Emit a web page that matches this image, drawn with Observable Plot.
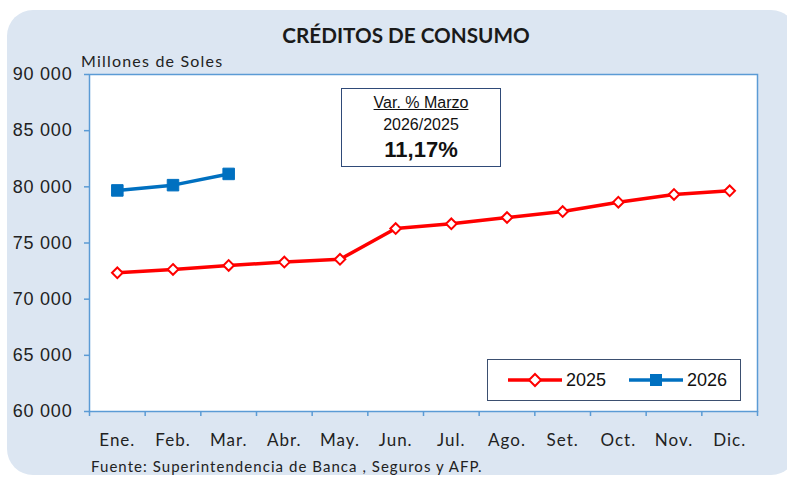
<!DOCTYPE html>
<html><head><meta charset="utf-8">
<script src="https://cdn.jsdelivr.net/npm/d3@7"></script>
<script src="https://cdn.jsdelivr.net/npm/@observablehq/plot@0.6"></script>
<style>
body{margin:0;background:#fff;}
#wrap{position:relative;width:787px;height:477px;overflow:hidden;background:#fff;}
#bg{position:absolute;left:7px;top:10px;width:790px;height:465px;border-radius:26px;background:#dce6f2;}
#chart{position:absolute;left:0;top:0;}
.t{position:absolute;white-space:nowrap;color:#1a1a1a;}
#title{left:0;width:812px;top:23px;text-align:center;font:bold 20.7px Lato,"Open Sans",sans-serif;}
#unit{left:81px;top:51px;font:16px Lato,sans-serif;color:#222;letter-spacing:1.2px;}
#foot{left:91px;top:457px;font:15px Lato,sans-serif;color:#222;letter-spacing:1.05px;}
#note{position:absolute;left:341px;top:88px;width:158px;height:77px;border:1.5px solid #2f4a78;background:#fff;text-align:center;font-family:"Liberation Sans",Arial,sans-serif;color:#111;}
#note .a{margin-top:4px;font-size:16px;line-height:19px;text-decoration:underline;}
#note .b{margin-top:3px;font-size:16px;line-height:19px;}
#note .c{margin-top:3px;font-size:22px;line-height:26px;font-weight:bold;}
#legend{position:absolute;left:487px;top:359px;width:252px;height:40px;border:1.5px solid #3b4f70;background:#fff;font:18px "Liberation Sans",Arial,sans-serif;color:#111;}
#legend svg{position:absolute;top:0;left:0;}
#legend span{position:absolute;top:10px;}
g[aria-label="x-axis tick label"] text{letter-spacing:1px;}
g[aria-label="y-axis tick label"] text{letter-spacing:0.8px;}
</style></head>
<body><div id="wrap"><div id="bg"></div><div id="chart"></div>
<div class="t" id="title">CRÉDITOS DE CONSUMO</div>
<div class="t" id="unit">Millones de Soles</div>
<div class="t" id="foot">Fuente: Superintendencia de Banca , Seguros y AFP.</div>
<div id="note"><div class="a">Var. % Marzo</div><div class="b">2026/2025</div><div class="c">11,17%</div></div>
<div id="legend">
<svg width="252" height="40">
<line x1="20" x2="74" y1="20" y2="20" stroke="#ff0000" stroke-width="3.5"/>
<path d="M47 14 L53 20 L47 26 L41 20 Z" fill="#fff" stroke="#ff0000" stroke-width="2"/>
<line x1="141" x2="195" y1="20" y2="20" stroke="#0070c0" stroke-width="3.5"/>
<rect x="162" y="14" width="12" height="12" fill="#0070c0"/>
</svg>
<span style="left:78px">2025</span><span style="left:199px">2026</span>
</div>
</div>
<script>
const months = ["Ene.","Feb.","Mar.","Abr.","May.","Jun.","Jul.","Ago.","Set.","Oct.","Nov.","Dic."];
const values2025 = [72350, 72650, 73000, 73300, 73550, 76290, 76710, 77270, 77800, 78630, 79320, 79650];
const values2026 = [79680, 80150, 81150];
const yTicks = [60000, 65000, 70000, 75000, 80000, 85000, 90000];

const s2025 = values2025.map((v,i)=>({x:i+0.5, y:v}));
const s2026 = values2026.map((v,i)=>({x:i+0.5, y:v}));
const blue = "#5b9bd5";
const fmt = d => d3.format(",")(d).replace(",", " ");

const chart = Plot.plot({
  width: 787, height: 477,
  marginLeft: 89, marginRight: 30, marginTop: 74, marginBottom: 66,
  style: {background: "transparent", overflow: "visible"},
  x: {domain: [0, 12]},
  y: {domain: [60000, 90000]},
  marks: [
    Plot.frame({fill: "white", stroke: blue, strokeWidth: 1.5}),
    Plot.axisY({ticks: yTicks, tickFormat: fmt, tickSize: 5, tickPadding: 12, stroke: blue, strokeWidth: 1.5,
      fill: "#222", fontSize: 18, fontFamily: "Liberation Sans, Arial, sans-serif", label: null}),
    Plot.axisX({ticks: d3.range(0, 13), tickFormat: () => "", tickSize: 5, stroke: blue, strokeWidth: 1.5, label: null}),
    Plot.axisX({ticks: months.map((m,i)=>i+0.5), tickFormat: d => months[Math.floor(d)], tickSize: 0, tickPadding: 22,
      fill: "#222", fontSize: 17, fontFamily: "Lato, sans-serif", label: null}),
    Plot.line(s2025, {x: "x", y: "y", stroke: "#ff0000", strokeWidth: 3.5}),
    Plot.dot(s2025, {x: "x", y: "y", symbol: "diamond2", r: 4.8, fill: "white", stroke: "#ff0000", strokeWidth: 2}),
    Plot.line(s2026, {x: "x", y: "y", stroke: "#0070c0", strokeWidth: 3.5}),
    Plot.dot(s2026, {x: "x", y: "y", symbol: "square", r: 6.5, fill: "#0070c0", stroke: "#0070c0", strokeWidth: 1})
  ]
});
document.getElementById("chart").appendChild(chart);
</script>
</body></html>
